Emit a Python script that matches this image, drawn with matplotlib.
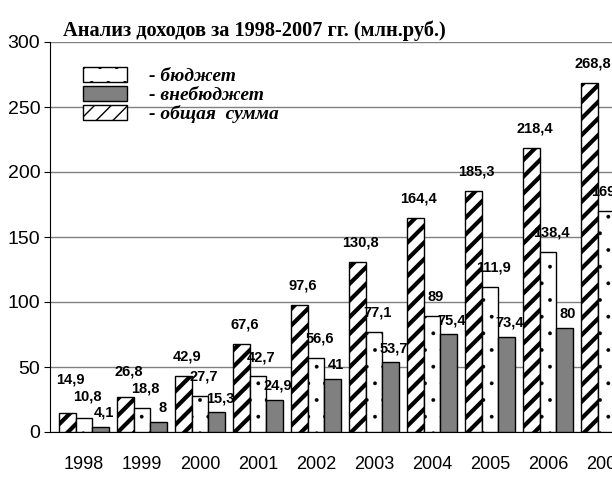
import matplotlib as mpl
import matplotlib.pyplot as plt
import matplotlib.patches as mpatches
import numpy as np

years = ['1998', '1999', '2000', '2001', '2002', '2003', '2004', '2005', '2006', '2007']
total = [14.9, 26.8, 42.9, 67.6, 97.6, 130.8, 164.4, 185.3, 218.4, 268.8]
budget = [10.8, 18.8, 27.7, 42.7, 56.6, 77.1, 89, 111.9, 138.4, 169.9]
extra = [4.1, 8, 15.3, 24.9, 41, 53.7, 75.4, 73.4, 80, 98.9]

plt.rcParams['font.family'] = 'Liberation Sans'

fig = plt.figure(figsize=(6.12, 4.8), dpi=100)
ax = fig.add_axes([50 / 612, 0.1, 585 / 612, 390 / 480])

x = np.arange(len(years))
w = 0.287


def fmt(v):
    return ('%g' % v).replace('.', ',')


with mpl.rc_context({'hatch.linewidth': 3.0}):
    b_total = ax.bar(x - w, total, w, color='white', edgecolor='black', hatch='//',
                     linewidth=1, zorder=3)
    h_total = mpatches.Patch(facecolor='white', edgecolor='black', hatch='//')
with mpl.rc_context({'hatch.linewidth': 0.3}):
    b_budget = ax.bar(x, budget, w, color='white', edgecolor='black', hatch='.',
                      linewidth=1, zorder=3)
    h_budget = mpatches.Patch(facecolor='white', edgecolor='black', hatch='.')
b_extra = ax.bar(x + w, extra, w, color='#808080', edgecolor='black', linewidth=1, zorder=3)
h_extra = mpatches.Patch(facecolor='#808080', edgecolor='black')

# label offsets (points above bar top); small bars are stacked so labels don't collide
px2pt = 390 / 300 * 0.72
off_e = [10.0 for v in extra]
off_b = [max(14, (e - b) * px2pt + oe + 12) for b, e, oe in zip(budget, extra, off_e)]
off_t = [max(14, (b - t) * px2pt + ob + 12) for t, b, ob in zip(total, budget, off_b)]

for bars, vals, offs in [(b_total, total, off_t), (b_budget, budget, off_b), (b_extra, extra, off_e)]:
    for rect, v, off in zip(bars, vals, offs):
        ax.annotate(fmt(v), (rect.get_x() + rect.get_width() / 2 + 0.06, v),
                    xytext=(0, off), textcoords='offset points',
                    ha='center', va='center', fontsize=10.5, fontweight='bold',
                    annotation_clip=False)

ax.set_xlim(-0.586, 9.5)
ax.set_ylim(0, 300)
ax.set_yticks(range(0, 301, 50))
ax.set_xticks(x)
ax.set_xticklabels(years)
ax.tick_params(axis='x', length=0, pad=17, labelsize=13)
ax.tick_params(axis='y', length=4, direction='out', labelsize=14, pad=3)
ax.yaxis.grid(True, color='#808080', linewidth=1)
ax.set_axisbelow(True)
for s in ['top', 'right']:
    ax.spines[s].set_visible(False)

labels = ['- бюджет', '- внебюджет', '- общая  сумма']
ax.legend([h_budget, h_extra, h_total], labels, loc='upper left',
          bbox_to_anchor=(73 / 612, 1 - 57 / 480),
          bbox_transform=fig.transFigure, frameon=False,
          handlelength=2.3, handleheight=0.8, handletextpad=1.1, labelspacing=0.05,
          borderpad=0, prop={'family': 'Liberation Serif', 'weight': 'bold',
                             'style': 'italic', 'size': 14})

fig.text(254 / 612, 1 - 31 / 480, 'Анализ доходов за 1998-2007 гг. (млн.руб.)',
         ha='center', va='center', fontsize=14.7, fontweight='bold',
         family='Liberation Serif')

fig.savefig('out.png', dpi=100)
